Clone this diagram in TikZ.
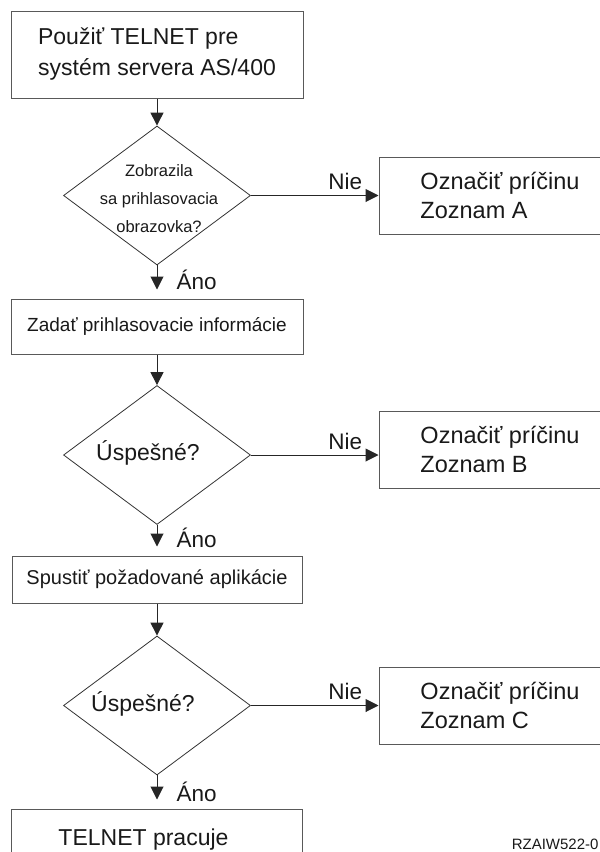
\documentclass[tikz,border=0pt]{standalone}
\usepackage{fontspec}
\setmainfont{Liberation Sans}
\usetikzlibrary{shapes.geometric, arrows.meta, positioning}

\begin{document}
\begin{tikzpicture}[x=1pt, y=1pt, line width=1pt,
    box/.style={draw=black!65, rectangle, inner sep=0pt, text=black!90},
    decision/.style={draw=black!80, diamond, inner sep=0pt, line width=.8pt,
        minimum width=187pt, minimum height=139pt},
    arr/.style={draw=black!85, -{Triangle[length=13pt, width=13pt]}},
    ann/.style={inner sep=0pt, text=black!90, font=\fontsize{22.5}{27}\selectfont}]
    \useasboundingbox (0,0) rectangle (600,-852);

    % Kaesten.
    \node[box, minimum width=292pt, minimum height=87pt, align=left,
        font=\fontsize{23}{31}\selectfont] (start) at (157,-54.5)
        {Použiť TELNET pre\\systém servera AS/400};
    \node[decision] (q1) at (157,-195.5) {};
    \node[inner sep=0pt, text=black!90, align=center,
        font=\fontsize{16.5}{28}\selectfont] (q1txt) at (159,-199)
        {Zobrazila\\sa prihlasovacia\\obrazovka?};
    \node[box, minimum width=242pt, minimum height=77pt, align=left,
        font=\fontsize{23.5}{29}\selectfont] (causeA) at (500,-195.5)
        {Označiť príčinu\\Zoznam A};

    \node[box, minimum width=292pt, minimum height=55pt,
        font=\fontsize{19}{24}\selectfont] (login) at (157,-326.5)
        {Zadať prihlasovacie informácie};
    \node[decision] (q2) at (157,-455) {};
    \node[ann, font=\fontsize{23}{27}\selectfont] (q2txt) at (148,-452.5) {Úspešné?};
    \node[box, minimum width=242pt, minimum height=77pt, align=left,
        font=\fontsize{23.5}{29}\selectfont] (causeB) at (500,-449.5)
        {Označiť príčinu\\Zoznam B};

    \node[box, minimum width=290pt, minimum height=47pt,
        font=\fontsize{20}{24}\selectfont] (apps) at (157,-579.5)
        {Spustiť požadované aplikácie};
    \node[decision] (q3) at (157,-705.5) {};
    \node[ann, font=\fontsize{23}{27}\selectfont] (q3txt) at (143,-704) {Úspešné?};
    \node[box, minimum width=242pt, minimum height=77pt, align=left,
        font=\fontsize{23.5}{29}\selectfont] (causeC) at (500,-705.5)
        {Označiť príčinu\\Zoznam C};

    \node[box, minimum width=291pt, minimum height=58pt] (done) at (157,-838) {};
    \node[ann, font=\fontsize{23}{27}\selectfont] (donetxt) at (143.5,-839.5) {TELNET pracuje};

    % Pfeile.
    \draw[arr] (start) -- (q1);
    \draw[arr, shorten >=9pt] (q1.south) -- (login.north);
    \draw[arr] (login) -- (q2);
    \draw[arr, shorten >=9pt] (q2.south) -- (apps.north);
    \draw[arr] (apps) -- (q3);
    \draw[arr, shorten >=9pt] (q3.south) -- (done.north);

    \draw[arr] (q1.east) -- node[ann, above=5pt, pos=.74] (nieA) {Nie} (causeA.west);
    \draw[arr] (q2.east) -- node[ann, above=5pt, pos=.74] (nieB) {Nie} (q2.east -| causeB.west);
    \draw[arr] (q3.east) -- node[ann, above=5pt, pos=.74] (nieC) {Nie} (q3.east -| causeC.west);

    % Beschriftung.
    \node[ann, anchor=base west] (anoA) at ([shift={(19pt,9pt)}]login.north) {Áno};
    \node[ann, anchor=base west] (anoB) at ([shift={(19pt,8pt)}]apps.north) {Áno};
    \node[ann, anchor=base west] (anoC) at ([shift={(19pt,7pt)}]done.north) {Áno};

    \node[inner sep=0pt, anchor=base east, text=black!90,
        font=\fontsize{15}{15}\selectfont] (figid) at (599,-849) {RZAIW522-0};
\end{tikzpicture}
\end{document}
